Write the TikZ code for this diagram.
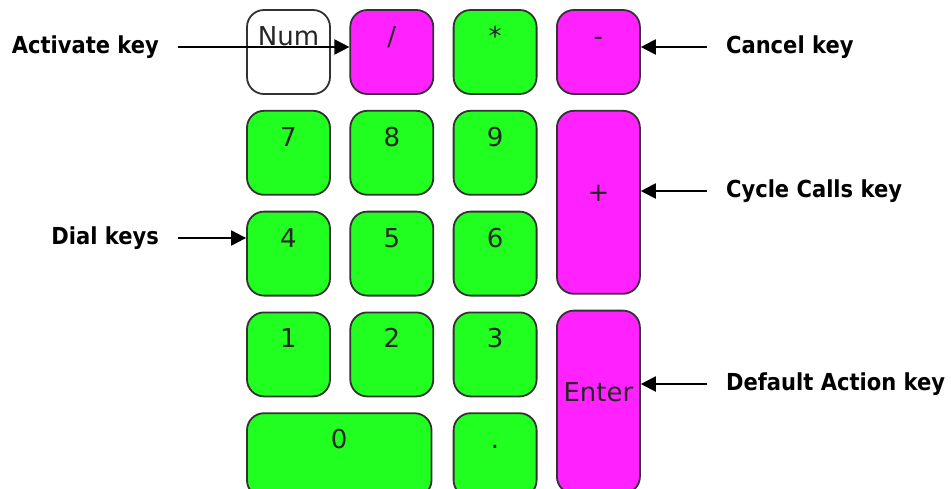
\documentclass[tikz,border=0pt]{standalone}
\usepackage{fontspec}
\usetikzlibrary{positioning,arrows.meta}
\newfontfamily\keyfont{DejaVu Sans}
\newfontfamily\labelfont{DejaVu Sans}[FakeStretch=0.9]
\definecolor{keygreen}{RGB}{32,255,32}
\definecolor{keypink}{RGB}{255,34,255}
\definecolor{keyedge}{RGB}{50,50,50}

\begin{document}
\begin{tikzpicture}[x=0.5pt, y=-0.5pt,
    node distance=7.5pt and 9.25pt,
    key/.style={draw=keyedge, line width=0.9pt, rounded corners=8.5pt, minimum width=41.5pt, minimum height=42pt, inner sep=0pt, text height=9.5pt, text depth=16pt, font=\keyfont\fontsize{13}{13}\selectfont, text=black!85},
    greenkey/.style={fill=keygreen},
    pinkkey/.style={fill=keypink},
    tallkey/.style={minimum height=91.5pt, text depth=10pt},
    widekey/.style={minimum width=92.25pt},
    callout/.style={font=\labelfont\bfseries\fontsize{11.7}{12}\selectfont},
    arrow/.style={-{Triangle[length=7.5pt,width=7.5pt]}, line width=1pt}]
\useasboundingbox (0,0) rectangle (951,488);
% top row
\node[key] (num) at (288.5,52) {Num};
\node[key, pinkkey, right=of num] (slash) {/};
\node[key, greenkey, right=of slash] (star) {*};
\node[key, pinkkey, right=of star] (minus) {-};
% digits
\node[key, greenkey, below=of num] (seven) {7};
\node[key, greenkey, right=of seven] (eight) {8};
\node[key, greenkey, right=of eight] (nine) {9};
\node[key, greenkey, below=of seven] (four) {4};
\node[key, greenkey, right=of four] (five) {5};
\node[key, greenkey, right=of five] (six) {6};
\node[key, greenkey, below=of four] (one) {1};
\node[key, greenkey, right=of one] (two) {2};
\node[key, greenkey, right=of two] (three) {3};
\node[key, greenkey, widekey, below=7.5pt of one.south west, anchor=north west] (zero) {0};
\node[key, greenkey, below=of three] (dot) {.};
% tall keys
\node[key, pinkkey, tallkey, below=of minus] (plus) {+};
\node[key, pinkkey, tallkey, below=of plus] (enter) {Enter};
% callouts
\node[callout, anchor=east] (activate) at (166,47) {Activate key};
\node[callout, anchor=east] (dial) at (166,238) {Dial keys};
\node[callout, anchor=west] (cancel) at (719,47) {Cancel key};
\node[callout, anchor=west] (cycle) at (719,191) {Cycle Calls key};
\node[callout, anchor=west] (default) at (719,384) {Default Action key};
\draw[arrow] ([xshift=6pt]activate.east) -- (activate.east -| slash.west);
\draw[arrow] ([xshift=6pt]dial.east) -- (dial.east -| four.west);
\draw[arrow] ([xshift=-6pt]cancel.west) -- (cancel.west -| minus.east);
\draw[arrow] ([xshift=-6pt]cycle.west) -- (cycle.west -| plus.east);
\draw[arrow] ([xshift=-6pt]default.west) -- (default.west -| enter.east);
\end{tikzpicture}
\end{document}
